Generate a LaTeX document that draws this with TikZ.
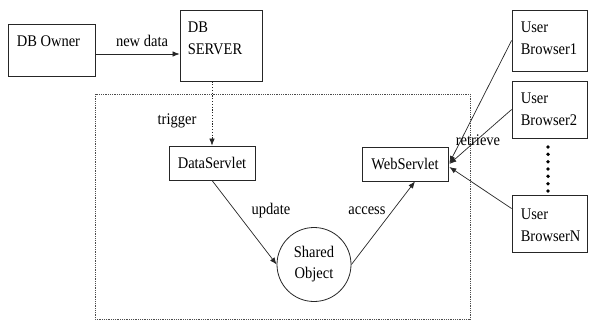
\documentclass[tikz,border=0pt]{standalone}
\usepackage{fontspec}
\setmainfont{Liberation Serif}
\usetikzlibrary{arrows.meta,calc}
\newcommand{\tx}[1]{\scalebox{1}[1.12]{#1}}
\begin{document}
\begin{tikzpicture}[x=1pt,y=-1pt,
  box/.style={draw=black!85,line width=0.8pt,inner sep=0pt},
  txt/.style={inner sep=0pt,font=\fontsize{14.5}{22}\selectfont},
  lbl/.style={inner sep=0pt,font=\fontsize{14.5}{22}\selectfont},
  conn/.style={draw=black!85,line width=0.7pt,-{Latex[length=7pt,width=5.5pt]}},
  dotbox/.style={draw=black!70,line width=0.6pt,dash pattern=on 0.7pt off 1.1pt}]
\useasboundingbox (0,0) rectangle (593,322);
% dotted frame
\draw[dotbox] (95,94) rectangle (470,319);
% boxes
\node[box,minimum width=87pt,minimum height=52pt] (owner) at (51.5,50) {};
\node[box,minimum width=82pt,minimum height=71pt] (server) at (221,45.5) {};
\node[box,minimum width=86pt,minimum height=34pt,font=\fontsize{14.5}{22}\selectfont] (ds) at (212,163) {\tx{DataServlet}};
\node[box,minimum width=86pt,minimum height=34pt,font=\fontsize{14.5}{22}\selectfont] (ws) at (405,164) {\tx{WebServlet}};
\node[box,minimum width=75pt,minimum height=61pt] (b1) at (549.5,40.5) {};
\node[box,minimum width=75pt,minimum height=57pt] (b2) at (549.5,109.5) {};
\node[box,minimum width=75pt,minimum height=57pt] (bN) at (549.5,223.5) {};
\node[draw=black!85,line width=0.8pt,circle,minimum size=74pt,inner sep=0pt,align=center,font=\fontsize{14.5}{21}\selectfont] (so) at (314,264.5) {\tx{Shared}\\\tx{Object}};
% box texts
\node[txt,anchor=base west] (ownert) at ($(owner.north west)+(9,23)$) {\tx{DB Owner}};
\node[txt,anchor=base west] (servert1) at ($(server.north west)+(8,23)$) {\tx{DB}};
\node[txt,anchor=base west] (servert2) at ($(server.north west)+(8,45)$) {\tx{SERVER}};
\node[txt,anchor=base west] (b1t1) at ($(b1.north west)+(9,23)$) {\tx{User}};
\node[txt,anchor=base west] (b1t2) at ($(b1.north west)+(9,45)$) {\tx{Browser1}};
\node[txt,anchor=base west] (b2t1) at ($(b2.north west)+(9,23)$) {\tx{User}};
\node[txt,anchor=base west] (b2t2) at ($(b2.north west)+(9,45)$) {\tx{Browser2}};
\node[txt,anchor=base west] (bNt1) at ($(bN.north west)+(9,25)$) {\tx{User}};
\node[txt,anchor=base west] (bNt2) at ($(bN.north west)+(9,47)$) {\tx{BrowserN}};
% connectors
\draw[conn] (owner.east |- 0,54) -- (server.west |- 0,54);
\draw[conn,dash pattern=on 1.2pt off 1.6pt] (server.south -| ds.north) -- (ds.north);
\draw[conn] (ds.south) -- (so.west);
\draw[conn] (so.east) -- ($(ws.south)+(10,0)$);
\draw[conn] (b1.west) -- ($(ws.east)+(1,-1)$);
\draw[conn] (b2.west) -- ($(ws.east)+(1,0)$);
\draw[conn] ($(bN.west)+(0,-15)$) -- ($(ws.east)+(1,3)$);
% ellipsis dots
\coordinate (d1) at (548,147);
\coordinate (d2) at (548,191);
\foreach \i in {0,...,6} \fill[black] ($(d1)!\i/6!(d2)$) circle (1.9pt);
% labels
\node[lbl] (lnew) at (142,41) {\tx{new data}};
\node[lbl] (ltrig) at (177,121) {\tx{trigger}};
\node[lbl] (lupd) at (271,211) {\tx{update}};
\node[lbl] (lacc) at (367,211) {\tx{access}};
\node[lbl] (lret) at (478,140) {\tx{retrieve}};
\end{tikzpicture}
\end{document}
